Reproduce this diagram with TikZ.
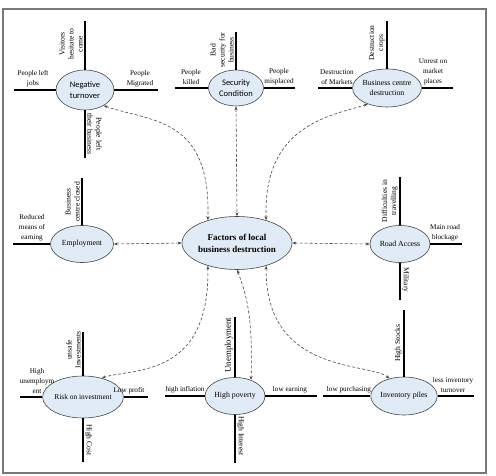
\documentclass[tikz,border=0pt]{standalone}
\usepackage{fontspec}
\setmainfont{Liberation Serif}
\newfontfamily\sansfnt{Carlito}
\usepackage{tikz}
\usetikzlibrary{arrows.meta,positioning,shapes.geometric}
\definecolor{facfill} {RGB}{224,235,246}
\definecolor{facline} {RGB}{ 70, 70, 70}
\definecolor{framegray}{RGB}{120,120,120}
\tikzset{
  fac/.style={ellipse,draw=facline,fill=facfill,line width=0.6pt,
              minimum width=60pt,minimum height=38pt,inner sep=0pt,
              align=center,font=\fontsize{7.8}{10}\selectfont},
  facsans/.style={fac,font=\sansfnt\fontsize{8.5}{11}\selectfont},
  facmain/.style={fac,minimum width=88pt,minimum height=53pt,
              font=\fontsize{9}{12}\selectfont\bfseries},
  spoke/.style={line width=1.6pt,color=black},
  darr/.style={{Stealth[length=4pt,width=3pt]}-{Stealth[length=4pt,width=3pt]},
              dash pattern=on 3pt off 2pt,line width=0.6pt,color=facline},
  lbl/.style={font=\fontsize{7.2}{10}\selectfont,align=center,
              inner sep=1pt,anchor=south},
  vlbl/.style={lbl,rotate=90,font=\fontsize{7.6}{9}\selectfont},
  vlblr/.style={lbl,rotate=-90,font=\fontsize{7.6}{9}\selectfont},
}

\begin{document}
\begin{tikzpicture}[x=1pt,y=1pt]
\useasboundingbox (0,0) rectangle (496,-476);
\draw[framegray,line width=1.2pt] (3,-9) rectangle (486,-473);

\node[facmain] (cen) at (237,-243) {Factors of local\\business destruction};
\node[facsans,minimum width=58pt,minimum height=40pt] (neg) at (85,-90) {Negative\\turnover};
\node[facsans,minimum width=55pt,minimum height=36pt] (sec) at (236,-88) {Security\\Condition};
\node[fac] (bus) at (387,-88) {Business centre\\destruction};
\node[fac,minimum width=63pt,minimum height=37pt] (emp) at (82,-244) {Employment};
\node[fac,minimum height=37pt] (road) at (400,-244) {Road Access};
\node[fac,minimum height=42pt,font=\fontsize{7.4}{9}\selectfont] (risk) at (83,-397) {Risk on investment};
\node[fac,minimum height=37pt] (pov) at (235,-396) {High poverty};
\node[fac,minimum width=58pt] (inv) at (404,-396) {Inventory piles};

% spoke ends
\coordinate (neg-l) at (14,-90);   \coordinate (neg-r) at (158,-90);
\coordinate (neg-t) at (85,-21);   \coordinate (neg-b) at (85,-158);
\coordinate (sec-l) at (175,-88);  \coordinate (sec-r) at (295,-88);
\coordinate (sec-t) at (236,-32);
\coordinate (bus-l) at (318,-88);  \coordinate (bus-r) at (453,-88);
\coordinate (bus-t) at (387,-21);
\coordinate (emp-l) at (13,-244);  \coordinate (emp-t) at (82,-178);
\coordinate (road-t) at (400,-177); \coordinate (road-r) at (462,-244);
\coordinate (road-b) at (400,-300);
\coordinate (risk-l) at (20,-397); \coordinate (risk-r) at (148,-397);
\coordinate (risk-t) at (83,-332); \coordinate (risk-b) at (83,-462);
\coordinate (pov-l) at (165,-396); \coordinate (pov-r) at (317,-396);
\coordinate (pov-t) at (235,-317); \coordinate (pov-b) at (235,-463);
\coordinate (inv-l) at (323,-396); \coordinate (inv-r) at (474,-396);
\coordinate (inv-t) at (404,-310);

\draw[spoke] (neg-l) -- (neg.west);  \draw[spoke] (neg.east) -- (neg-r);
\draw[spoke] (neg-t) -- (neg.north); \draw[spoke] (neg.south) -- (neg-b);
\draw[spoke] (sec-l) -- (sec.west);  \draw[spoke] (sec.east) -- (sec-r);
\draw[spoke] (sec-t) -- (sec.north);
\draw[spoke] (bus-l) -- (bus.west);  \draw[spoke] (bus.east) -- (bus-r);
\draw[spoke] (bus-t) -- (bus.north);
\draw[spoke] (emp-l) -- (emp.west);  \draw[spoke] (emp-t) -- (emp.north);
\draw[spoke] (road-t) -- (road.north); \draw[spoke] (road.east) -- (road-r);
\draw[spoke] (road.south) -- (road-b);
\draw[spoke] (risk-l) -- (risk.west);  \draw[spoke] (risk.east) -- (risk-r);
\draw[spoke] (risk-t) -- (risk.north); \draw[spoke] (risk.south) -- (risk-b);
\draw[spoke] (pov-l) -- (pov.west);  \draw[spoke] (pov.east) -- (pov-r);
\draw[spoke] (pov-t) -- (pov.north); \draw[spoke] (pov.south) -- (pov-b);
\draw[spoke] (inv-l) -- (inv.west);  \draw[spoke] (inv.east) -- (inv-r);
\draw[spoke] (inv-t) -- (inv.north);

\node[vlbl]  (neg-tl) at (84,-44)  {Visitors\\hesitate to\\come};
\node[lbl]   (neg-ll) at (33,-88)  {People left\\jobs};
\node[lbl]   (neg-rl) at (140,-88) {People\\Migrated};
\node[vlblr] (neg-bl) at (86,-134) {People left\\their business};

\node[vlbl]  (sec-tl) at (235,-50) {Bad\\security for\\business};
\node[lbl]   (sec-ll) at (191,-86) {People\\killed};
\node[lbl]   (sec-rl) at (279,-86) {People\\misplaced};

\node[vlbl]  (bus-tl) at (386,-43) {Destruction\\crops};
\node[lbl]   (bus-ll) at (337,-86) {Destruction\\of Markets};
\node[lbl]   (bus-rl) at (433,-86) {Unrest on\\market\\places};

\node[vlbl]  (emp-tl) at (81,-202) {Business\\centre closed};
\node[lbl]   (emp-ll) at (32,-242) {Reduced\\means of\\earning};

\node[vlbl]  (road-tl) at (399,-201) {Difficulties in\\travelling};
\node[lbl]   (road-rl) at (445,-242) {Main road\\blockage};
\node[vlblr] (road-bl) at (401,-280) {Military};

\node[vlbl]  (risk-tl) at (82,-350) {unsafe\\Investments};
\node[lbl]   (risk-ll) at (37,-395) {High\\unemploym\\ent};
\node[lbl]   (risk-rl) at (129,-395) {Low profit};
\node[vlblr] (risk-bl) at (84,-440) {High Cost};

\node[vlbl,font=\fontsize{8.8}{10}\selectfont] (pov-tl) at (234,-345) {Unemployment};
\node[lbl]   (pov-ll) at (185,-394) {high inflation};
\node[lbl]   (pov-rl) at (290,-394) {low earning};
\node[vlblr] (pov-bl) at (236,-436) {High Interest};

\node[vlbl]  (inv-tl) at (403,-343) {High Stocks};
\node[lbl]   (inv-ll) at (349,-394) {low purchasing};
\node[lbl]   (inv-rl) at (453,-394) {less inventory\\turnover};

\draw[darr] (neg.-40) .. controls (150,-122) and (211,-116) .. (cen.142);
\draw[darr] (sec.south) -- (cen.north);
\draw[darr] (cen.38) .. controls (263,-125) and (330,-116) .. (bus.-140);
\draw[darr] (emp.east) -- (cen.west);
\draw[darr] (cen.east) -- (road.west);
\draw[darr] (cen.-142) .. controls (210,-380) and (130,-368) .. (risk.45);
\draw[darr] (cen.-90) .. controls (247,-295) and (253,-320) .. (pov.45);
\draw[darr] (cen.-38) .. controls (265,-375) and (370,-362) .. (inv.130);
\end{tikzpicture}
\end{document}
